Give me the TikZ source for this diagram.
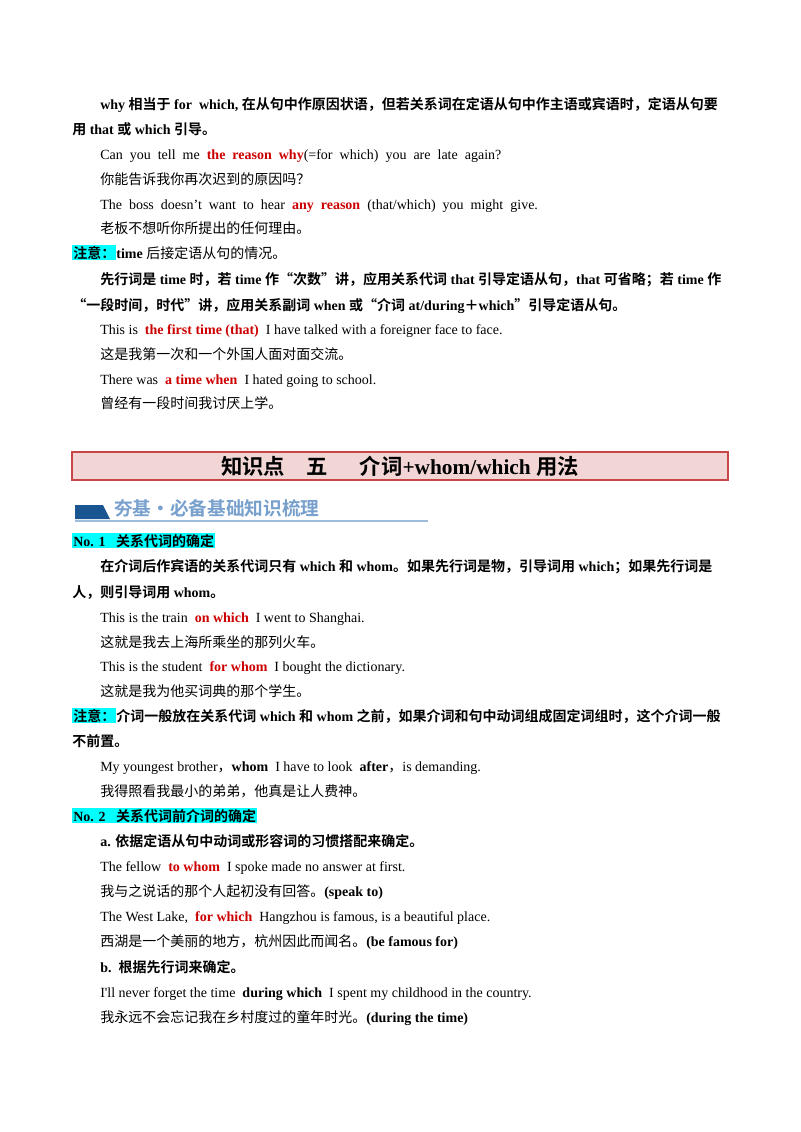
\documentclass[tikz,border=0pt]{standalone}
\usepackage{fontspec}
\setmainfont{Liberation Serif}
\newfontfamily\zh{Noto Sans CJK SC}[BoldFont={* Bold}]
\definecolor{rc}{RGB}{204,0,0}
\definecolor{hlc}{RGB}{0,255,255}
\definecolor{bannerfill}{RGB}{242,214,214}
\definecolor{bannerline}{RGB}{200,70,70}
\definecolor{hdr}{RGB}{120,160,205}
\definecolor{hdrdark}{RGB}{25,85,145}
\newcommand\z[1]{{\zh #1}}
\newcommand\rd[1]{{\color{rc}\bfseries #1}}
\newcommand\hl[1]{{\setlength\fboxsep{0.8pt}\colorbox{hlc}{#1}}}
\begin{document}
\begin{tikzpicture}[x=0.75pt,y=-0.75pt,
  t/.style={anchor=base west,inner sep=0pt,yshift=-4*0.75pt,font=\fontsize{10.5}{12}\selectfont},
  tb/.style={t,font=\fontsize{10.5}{12}\selectfont\bfseries}]
\useasboundingbox (0,0) rectangle (800,1132);
\node[tb] (l1) at (100,105) {why \z{相当于} for\ \ which, \z{在从句中作原因状语，但若关系词在定语从句中作主语或宾语时，定语从句要}};
\node[tb] (l2) at (72,130) {\z{用} that \z{或} which \z{引导。}};
\node[t] (l3) at (100,155) {Can\ \ you\ \ tell\ \ me\ \ \rd{the\ \ reason\ \ why}(=for\ \ which)\ \ you\ \ are\ \ late\ \ again?};
\node[t] (l4) at (100,180) {\z{你能告诉我你再次迟到的原因吗？}};
\node[t] (l5) at (100,205) {The\ \ boss\ \ doesn’t\ \ want\ \ to\ \ hear\ \ \rd{any\ \ reason}\ \ (that/which)\ \ you\ \ might\ \ give.};
\node[t] (l6) at (100,229) {\z{老板不想听你所提出的任何理由。}};
\node[t] (l7) at (72,254) {\hl{\bfseries\z{注意：}}\textbf{time} \z{后接定语从句的情况。}};
\node[tb] (l8) at (100,280) {\z{先行词是} time \z{时，若} time \z{作“次数”讲，应用关系代词} that \z{引导定语从句，}that \z{可省略；若} time \z{作}};
\node[tb] (l9) at (72,306) {\z{“一段时间，时代”讲，应用关系副词} when \z{或“介词} at/during\z{＋}which\z{”引导定语从句。}};
\node[t] (l10) at (100,330) {This is\ \ \rd{the first time (that)}\ \ I have talked with a foreigner face to face.};
\node[t] (l11) at (100,355) {\z{这是我第一次和一个外国人面对面交流。}};
\node[t] (l12) at (100,380) {There was\ \ \rd{a time when}\ \ I hated going to school.};
\node[t] (l13) at (100,404) {\z{曾经有一段时间我讨厌上学。}};
% banner
\node[draw=bannerline,fill=bannerfill,line width=0.9pt,minimum width=656*0.75pt,minimum height=28*0.75pt,inner sep=0pt,font=\fontsize{16}{18}\selectfont\bfseries] (ban) at (400,466) {\z{知识点}\quad\z{五}\quad\ \ \z{介词}+whom/which \z{用法}};
% header
\fill[hdrdark] (75,505) -- (103,505) -- (110,519) -- (75,519) -- cycle;
\draw[hdr!70,line width=1pt] (75,521) -- (428,521);
\node[anchor=west,inner sep=0pt,font=\fontsize{14}{16}\selectfont\bfseries,text=hdr] (hd) at (114,508) {\z{夯基·必备基础知识梳理}};
\node[tb] (n1) at (72,542) {\hl{No. 1\ \ \ \z{关系代词的确定}}};
\node[tb] (m1) at (100,567) {\z{在介词后作宾语的关系代词只有} which \z{和} whom\z{。如果先行词是物，引导词用} which\z{；如果先行词是}};
\node[tb] (m2) at (72,593) {\z{人，则引导词用} whom\z{。}};
\node[t] (m3) at (100,618) {This is the train\ \ \rd{on which}\ \ I went to Shanghai.};
\node[t] (m4) at (100,643) {\z{这就是我去上海所乘坐的那列火车。}};
\node[t] (m5) at (100,667) {This is the student\ \ \rd{for whom}\ \ I bought the dictionary.};
\node[t] (m6) at (100,692) {\z{这就是我为他买词典的那个学生。}};
\node[tb] (m7) at (72,717) {\hl{\z{注意：}}\z{介词一般放在关系代词} which \z{和} whom \z{之前，如果介词和句中动词组成固定词组时，这个介词一般}};
\node[tb] (m8) at (72,742) {\z{不前置。}};
\node[t] (m9) at (100,767) {My youngest brother\z{，}\textbf{whom}\ \ I have to look\ \ \textbf{after}\z{，}is demanding.};
\node[t] (m10) at (100,792) {\z{我得照看我最小的弟弟，他真是让人费神。}};
\node[tb] (n2) at (72,817) {\hl{No. 2\ \ \ \z{关系代词前介词的确定}}};
\node[tb] (p1) at (100,842) {a. \z{依据定语从句中动词或形容词的习惯搭配来确定。}};
\node[t] (p2) at (100,867) {The fellow\ \ \rd{to whom}\ \ I spoke made no answer at first.};
\node[t] (p3) at (100,892) {\z{我与之说话的那个人起初没有回答。}\textbf{(speak to)}};
\node[t] (p4) at (100,917) {The West Lake,\ \ \rd{for which}\ \ Hangzhou is famous, is a beautiful place.};
\node[t] (p5) at (100,942) {\z{西湖是一个美丽的地方，杭州因此而闻名。}\textbf{(be famous for)}};
\node[tb] (p6) at (100,968) {b.\ \ \z{根据先行词来确定。}};
\node[t] (p7) at (100,993) {I\textquotesingle ll never forget the time\ \ \textbf{during which}\ \ I spent my childhood in the country.};
\node[t] (p8) at (100,1018) {\z{我永远不会忘记我在乡村度过的童年时光。}\textbf{(during the time)}};
\end{tikzpicture}
\end{document}
